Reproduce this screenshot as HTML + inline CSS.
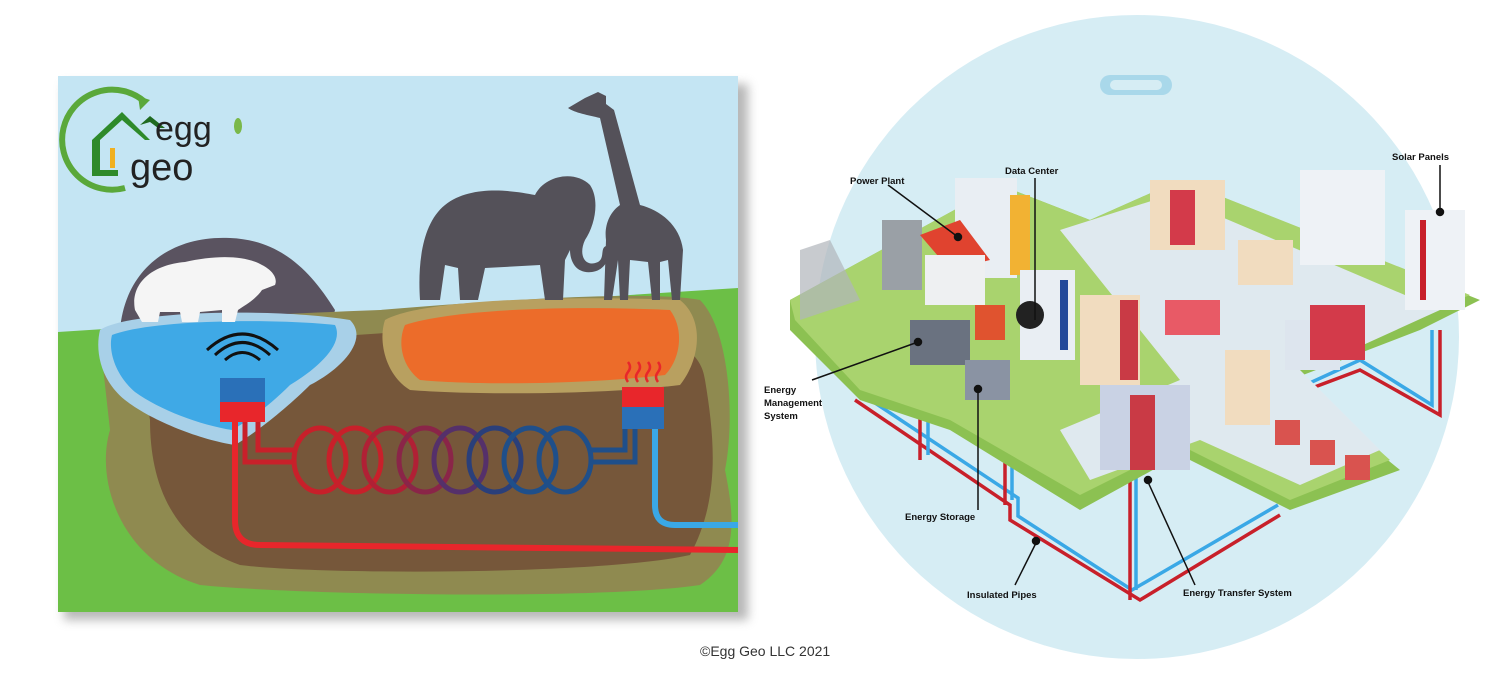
<!DOCTYPE html>
<html><head><meta charset="utf-8"><style>
html,body{margin:0;padding:0;background:#fff;}
svg{display:block;}
</style></head><body>
<svg width="1510" height="684" viewBox="0 0 1510 684" xmlns="http://www.w3.org/2000/svg" font-family="Liberation Sans, sans-serif">
<defs>
<filter id="sh" x="-5%" y="-5%" width="115%" height="115%"><feGaussianBlur stdDeviation="5"/></filter>
<clipPath id="lp"><rect x="58" y="76" width="680" height="536"/></clipPath>
</defs>
<rect x="64" y="84" width="684" height="536" fill="#888" filter="url(#sh)" opacity="0.6"/>
<g clip-path="url(#lp)">
<rect x="58" y="76" width="680" height="536" fill="#c4e5f3"/>
<path d="M120 330 C125 270 170 235 230 238 C280 240 310 270 335 310 L330 330 Z" fill="#5a5360"/>
<path d="M58 332 L738 288 L738 612 L58 612 Z" fill="#6cbf46"/>
<path d="M100 340 C130 320 250 315 380 310 C500 300 650 290 700 300 C730 330 735 420 725 470 C735 520 738 560 700 585 C600 600 300 595 200 585 C120 560 95 480 110 430 Z" fill="#8f8a50"/>
<path d="M140 360 C250 340 400 330 560 325 C650 325 700 340 705 380 C715 440 720 500 690 555 C600 575 320 575 240 565 C170 540 150 480 150 420 Z" fill="#76573a"/>
<path d="M385 320 C420 300 560 295 680 300 C705 320 700 360 680 385 C600 395 470 395 410 390 C385 375 378 340 385 320 Z" fill="#b8a060"/>
<path d="M405 325 C450 310 560 305 670 310 C685 330 680 360 665 375 C580 385 470 385 420 380 C400 365 398 340 405 325 Z" fill="#ec6c2a"/>
<path d="M100 330 C130 310 280 308 350 320 C370 340 340 370 310 385 C290 405 260 430 235 445 C200 440 150 420 125 400 C100 380 95 350 100 330 Z" fill="#a8d0e8"/>
<path d="M112 335 C150 320 270 318 335 325 C345 345 315 370 290 385 C270 405 250 420 232 430 C200 425 160 410 135 392 C115 375 108 350 112 335 Z" fill="#3fa9e6"/>
<path d="M135 310 C130 285 150 265 185 262 C215 255 245 255 262 265 C272 270 278 278 275 285 L262 290 C255 300 245 305 238 310 L235 322 L222 322 L222 310 L200 312 L198 322 L182 322 L180 312 L160 312 L158 322 L142 322 Z" fill="#f5f5f5"/>
<path d="M420 300 C418 270 420 225 445 205 C470 185 510 190 535 195 C545 175 575 170 590 185 C600 200 595 225 585 240 C578 255 585 268 598 262 C605 258 600 248 606 246 C612 252 608 270 592 272 C575 274 570 260 570 250 L565 260 L563 300 L545 300 L540 265 L485 268 L478 300 L460 300 L458 268 L445 265 L440 300 Z" fill="#545159"/>
<path d="M568 108 L585 98 L598 92 L606 96 L606 104 L614 110 L640 205 C660 210 680 225 683 250 L680 300 L672 300 L668 260 L660 262 L660 300 L652 300 L648 262 L630 260 L628 300 L620 300 L618 260 L612 300 L604 300 L606 240 C604 225 610 212 620 205 L600 118 C588 115 575 113 568 108 Z" fill="#545159"/>
<g fill="none" stroke-width="5">
<ellipse cx="320" cy="460" rx="26" ry="32" stroke="#c8202a"/>
<ellipse cx="355" cy="460" rx="26" ry="32" stroke="#c8202a"/>
<ellipse cx="390" cy="460" rx="26" ry="32" stroke="#b02035"/>
<ellipse cx="425" cy="460" rx="26" ry="32" stroke="#8a2548"/>
<ellipse cx="460" cy="460" rx="26" ry="32" stroke="#55306a"/>
<ellipse cx="495" cy="460" rx="26" ry="32" stroke="#2a3f7a"/>
<ellipse cx="530" cy="460" rx="26" ry="32" stroke="#1f4f8a"/>
<ellipse cx="565" cy="460" rx="26" ry="32" stroke="#1f4f8a"/>
</g>
<path d="M235 420 L235 520 Q235 545 260 545 L740 550" fill="none" stroke="#e8262b" stroke-width="6"/>
<path d="M245 420 L245 462 L295 462" fill="none" stroke="#c8202a" stroke-width="5"/>
<path d="M258 420 L258 450 L295 450" fill="none" stroke="#c8202a" stroke-width="5"/>
<path d="M590 462 L635 462 L635 425" fill="none" stroke="#1f4f8a" stroke-width="5"/>
<path d="M590 450 L625 450 L625 425" fill="none" stroke="#1f4f8a" stroke-width="5"/>
<path d="M655 420 L655 505 Q655 525 675 525 L740 525" fill="none" stroke="#3aa8e6" stroke-width="6"/>
<rect x="220" y="378" width="45" height="24" fill="#2a70b8"/>
<rect x="220" y="402" width="45" height="20" fill="#e8262b"/>
<rect x="622" y="387" width="42" height="20" fill="#e8262b"/>
<rect x="622" y="407" width="42" height="22" fill="#2a70b8"/>
<g fill="none" stroke="#111" stroke-width="3">
<path d="M225 360 Q242 345 260 360"/><path d="M215 355 Q242 330 270 355"/><path d="M207 350 Q242 318 278 350"/>
</g>
<g fill="none" stroke="#e8262b" stroke-width="2.5">
<path d="M628 382 q-4 -5 0 -10 q4 -5 0 -10"/><path d="M638 382 q-4 -5 0 -10 q4 -5 0 -10"/><path d="M648 382 q-4 -5 0 -10 q4 -5 0 -10"/><path d="M658 382 q-4 -5 0 -10 q4 -5 0 -10"/>
</g>
<path d="M125 188 A50 50 0 1 1 145 102" fill="none" stroke="#5aa83a" stroke-width="6"/>
<path d="M138 96 L150 100 L140 110 Z" fill="#5aa83a"/>
<path d="M92 140 L122 112 L150 140 L145 140 L122 120 L100 140 L100 170 L118 170 L118 176 L92 176 Z" fill="#2e8a2a"/>
<path d="M140 125 L150 116 L165 128 L158 128 L150 122 Z" fill="#1f6a20"/>
<rect x="110" y="148" width="5" height="20" fill="#f0b020"/>
<text x="155" y="140" font-size="34" fill="#222">egg</text>
<text x="130" y="180" font-size="38" fill="#222">geo</text>
<ellipse cx="238" cy="126" rx="4" ry="8" fill="#7ab84a"/>
</g>

<circle cx="1137" cy="337" r="322" fill="#d6edf4"/>
<rect x="1100" y="75" width="72" height="20" rx="10" fill="#a9d8ea"/>
<rect x="1110" y="80" width="52" height="10" rx="5" fill="#d6edf4"/>
<g fill="none" stroke-width="3.5">
<path d="M855 400 L1010 505 L1010 520 L1140 600 L1280 515" stroke="#c8202a"/>
<path d="M860 393 L1018 498 L1018 516 L1132 590 L1278 505" stroke="#3aa8e6"/>
<path d="M1280 400 L1360 370 L1440 415 L1440 330" stroke="#c8202a"/>
<path d="M1290 392 L1360 360 L1432 405 L1432 330" stroke="#3aa8e6"/>
<path d="M1130 470 L1130 600" stroke="#c8202a"/><path d="M1136 470 L1136 590" stroke="#3aa8e6"/>
<path d="M920 390 L920 460" stroke="#c8202a"/><path d="M928 390 L928 455" stroke="#3aa8e6"/>
<path d="M1005 420 L1005 505" stroke="#c8202a"/><path d="M1012 420 L1012 500" stroke="#3aa8e6"/>
</g>
<path d="M790 300 L1000 185 L1090 220 L1180 180 L1480 300 L1420 330 L1290 380 L1400 470 L1290 510 L1180 455 L1080 510 L950 430 L860 400 L790 330 Z" fill="#8cc152"/>
<path d="M790 300 L1000 185 L1090 220 L1180 180 L1470 295 L1410 320 L1290 370 L1390 460 L1290 500 L1180 445 L1080 495 L950 420 L860 390 L795 320 Z" fill="#a9d36e"/>
<path d="M1060 230 L1170 195 L1440 310 L1330 360 L1300 370 L1380 450 L1300 485 L1200 440 L1090 480 L1060 430 L1180 380 Z" fill="#dfe9ef"/>
<g>
<rect x="955" y="178" width="62" height="100" fill="#e9eef3"/><rect x="1010" y="195" width="20" height="80" fill="#f2b233"/>
<rect x="882" y="220" width="40" height="70" fill="#9aa0a6"/>
<path d="M920 235 L960 220 L990 260 L950 270 Z" fill="#e0432f"/>
<rect x="925" y="255" width="60" height="50" fill="#eef0f2"/>
<rect x="1020" y="270" width="55" height="90" fill="#e9eef3"/><rect x="1060" y="280" width="8" height="70" fill="#234a9a"/>
<circle cx="1030" cy="315" r="14" fill="#222"/>
<rect x="1080" y="295" width="60" height="90" fill="#f1dcbf"/><rect x="1120" y="300" width="18" height="80" fill="#c93a45"/>
<rect x="1150" y="180" width="75" height="70" fill="#f1dcbf"/><rect x="1170" y="190" width="25" height="55" fill="#d33a4a"/>
<rect x="1300" y="170" width="85" height="95" fill="#eef2f6"/>
<rect x="1405" y="210" width="60" height="100" fill="#eef2f6"/><rect x="1420" y="220" width="6" height="80" fill="#c8202a"/>
<rect x="1238" y="240" width="55" height="45" fill="#f1dcbf"/>
<rect x="1165" y="300" width="55" height="35" fill="#e85a66"/>
<rect x="1285" y="320" width="55" height="50" fill="#dde5ee"/><rect x="1310" y="305" width="55" height="55" fill="#d33a4a"/>
<rect x="1225" y="350" width="45" height="75" fill="#f1dcbf"/>
<rect x="1100" y="385" width="90" height="85" fill="#c9d2e4"/><rect x="1130" y="395" width="25" height="75" fill="#c93a45"/>
<rect x="910" y="320" width="60" height="45" fill="#6a7280"/>
<rect x="965" y="360" width="45" height="40" fill="#8a93a3"/>
<rect x="975" y="305" width="30" height="35" fill="#e0532f"/>
<rect x="1275" y="420" width="25" height="25" fill="#d9534f"/><rect x="1310" y="440" width="25" height="25" fill="#d9534f"/><rect x="1345" y="455" width="25" height="25" fill="#d9534f"/>
<path d="M800 250 L830 240 L860 300 L800 320 Z" fill="#b0b5bb" opacity="0.7"/>
</g>
<g stroke="#111" stroke-width="1.5" fill="#111">
<line x1="888" y1="185" x2="958" y2="237"/><circle cx="958" cy="237" r="3.5"/>
<line x1="1035" y1="178" x2="1035" y2="320"/>
<line x1="1440" y1="165" x2="1440" y2="210"/><circle cx="1440" cy="212" r="3.5"/>
<line x1="812" y1="380" x2="918" y2="342"/><circle cx="918" cy="342" r="3.5"/>
<line x1="978" y1="510" x2="978" y2="390"/><circle cx="978" cy="389" r="3.5"/>
<line x1="1015" y1="585" x2="1036" y2="543"/><circle cx="1036" cy="541" r="3.5"/>
<line x1="1195" y1="585" x2="1148" y2="482"/><circle cx="1148" cy="480" r="3.5"/>
</g>
<g font-size="9.5" font-weight="bold" fill="#111">
<text x="850" y="184">Power Plant</text>
<text x="1005" y="174">Data Center</text>
<text x="1392" y="160">Solar Panels</text>
<text x="764" y="393">Energy</text><text x="764" y="406">Management</text><text x="764" y="419">System</text>
<text x="905" y="520">Energy Storage</text>
<text x="967" y="598">Insulated Pipes</text>
<text x="1183" y="596">Energy Transfer System</text>
</g>
<text x="700" y="656" font-size="14" fill="#333">©Egg Geo LLC 2021</text>
</svg>
</body></html>
